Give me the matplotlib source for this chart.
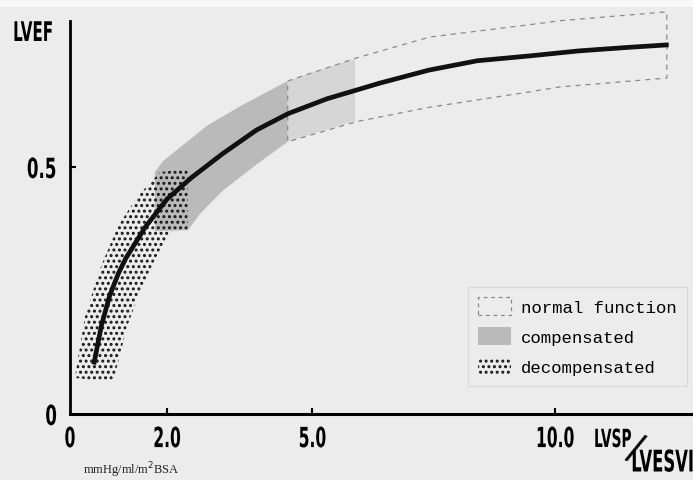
import numpy as np
import matplotlib.pyplot as plt
from matplotlib.patches import Patch, Rectangle
from matplotlib.patheffects import AbstractPathEffect
from matplotlib.transforms import Affine2D
from matplotlib import font_manager

# LVEF vs LVSP/LVESVI relation
curve_x = [0.50, 0.65, 0.82, 1.00, 1.15, 1.55, 2.00, 2.50, 3.15, 3.85, 4.50,
           5.30, 6.40, 7.40, 8.40, 9.50, 10.50, 11.50, 12.30]
curve_y = [0.105, 0.180, 0.240, 0.285, 0.315, 0.378, 0.435, 0.478, 0.527, 0.575, 0.608,
           0.638, 0.670, 0.696, 0.715, 0.725, 0.735, 0.742, 0.747]

# decompensated zone: upper (left) edge and lower (right) edge
decomp_up_x = [0.10, 0.31, 0.62, 0.99, 1.40, 1.86, 2.43]
decomp_up_y = [0.073, 0.198, 0.294, 0.381, 0.441, 0.490, 0.495]
decomp_lo_x = [0.89, 1.18, 1.44, 1.79, 2.06, 2.43]
decomp_lo_y = [0.065, 0.178, 0.247, 0.320, 0.368, 0.372]

# compensated zone
comp_up_x = [1.75, 1.92, 2.82, 3.51, 4.49]
comp_up_y = [0.490, 0.512, 0.583, 0.623, 0.674]
comp_lo_x = [1.75, 2.43, 2.68, 3.15, 3.86, 4.49]
comp_lo_y = [0.370, 0.372, 0.405, 0.452, 0.506, 0.551]

# lighter transition strip between compensated and normal
trans_up_x = [4.49, 5.20, 5.88]
trans_up_y = [0.674, 0.698, 0.719]
trans_lo_x = [4.49, 5.20, 5.88]
trans_lo_y = [0.551, 0.573, 0.593]

# normal function zone (dashed outline)
norm_up_x = [4.49, 5.92, 7.42, 9.48, 10.10, 12.31]
norm_up_y = [0.674, 0.721, 0.763, 0.788, 0.796, 0.814]
norm_lo_x = [4.49, 5.92, 7.42, 9.48, 10.10, 12.31]
norm_lo_y = [0.551, 0.592, 0.621, 0.652, 0.662, 0.680]

x_ticks = [0, 2, 5, 10]
x_tick_labels = ['0', '2.0', '5.0', '10.0']
y_ticks = [0, 0.5]
y_tick_labels = ['0', '0.5']
legend_labels = ['normal function', 'compensated', 'decompensated']


def pick(*names):
    have = {f.name for f in font_manager.fontManager.ttflist}
    return [n for n in names if n in have] + ['DejaVu Sans']


class Squeeze(AbstractPathEffect):
    """Draw glyphs narrower (condensed gothic look), keeping one edge fixed."""

    def __init__(self, sx, anchor='center'):
        super().__init__()
        self.sx = sx
        self.anchor = anchor

    def draw_path(self, renderer, gc, tpath, affine, rgbFace=None):
        ext = tpath.get_extents()
        cx = {'left': ext.x0, 'right': ext.x1}.get(self.anchor, (ext.x0 + ext.x1) / 2)
        squeeze = Affine2D().translate(-cx, 0).scale(self.sx, 1).translate(cx, 0)
        renderer.draw_path(gc, tpath, squeeze + affine, rgbFace)


mono = pick('Liberation Mono', 'DejaVu Sans Mono')
serif = pick('Liberation Serif', 'DejaVu Serif')
gothic = dict(family='DejaVu Sans', fontweight='bold')

bg = '#ececec'
plt.rcParams['hatch.linewidth'] = 1.4

fig = plt.figure(figsize=(6.93, 4.81), dpi=100, facecolor=bg)
fig.patches.append(Rectangle((0, 1 - 8 / 481), 1, 8 / 481, transform=fig.transFigure,
                             facecolor='#f8f8f8', edgecolor='none', zorder=0))
ax = fig.add_axes([70 / 693, 66 / 481, 623 / 693, 415 / 481])
ax.set_facecolor('none')
ax.set_xlim(0, 12.85)
ax.set_ylim(0, 0.840)


def zone(ux, uy, lx, ly):
    return list(ux) + list(lx)[::-1], list(uy) + list(ly)[::-1]


px, py = zone(comp_up_x, comp_up_y, comp_lo_x, comp_lo_y)
ax.fill(px, py, facecolor='#bababa', edgecolor='none', zorder=2)
px, py = zone(trans_up_x, trans_up_y, trans_lo_x, trans_lo_y)
ax.fill(px, py, facecolor='#d6d6d6', edgecolor='none', zorder=2)
px, py = zone(norm_up_x, norm_up_y, norm_lo_x, norm_lo_y)
ax.fill(px, py, fill=False, edgecolor='#8a8a8a', linestyle=(0, (4, 4)), linewidth=0.9,
        zorder=2)
px, py = zone(decomp_up_x, decomp_up_y, decomp_lo_x, decomp_lo_y)
ax.fill(px, py, facecolor='none', edgecolor='#151515', hatch='...', linewidth=0, zorder=3)

ax.plot(curve_x, curve_y, color='#111111', linewidth=3.4, zorder=4)

# axes: left spine stops below the top edge, bottom spine runs off the page
for s in ('top', 'right'):
    ax.spines[s].set_visible(False)
ax.spines['left'].set_bounds(0, 0.795)
ax.spines['left'].set_linewidth(2.0)
ax.spines['bottom'].set_linewidth(2.2)
ax.set_xticks(x_ticks)
ax.set_xticklabels(x_tick_labels)
ax.set_yticks(y_ticks)
ax.set_yticklabels(y_tick_labels)
ax.tick_params(direction='in', length=4, width=1.5)
ax.tick_params(axis='x', pad=8)
ax.tick_params(axis='y', pad=9)
for lab in ax.get_xticklabels():
    lab.set(fontsize=20, **gothic)
    lab.set_path_effects([Squeeze(0.56)])
for lab in ax.get_yticklabels():
    lab.set(fontsize=20, **gothic)
    lab.set_path_effects([Squeeze(0.6, 'right')])
ax.xaxis.get_major_ticks()[0].tick1line.set_visible(False)
ax.yaxis.get_major_ticks()[0].tick1line.set_visible(False)

fig.text(12 / 693, 1 - 35 / 481, 'LVEF', fontsize=19.5, ha='left', va='center',
         path_effects=[Squeeze(0.56, 'left')], **gothic)
fig.text(593 / 693, 1 - 441 / 481, 'LVSP', fontsize=18, ha='left', va='center',
         path_effects=[Squeeze(0.55, 'left')], **gothic)
fig.text(635 / 693, 1 - 449 / 481, '/', family='DejaVu Sans', fontsize=27,
         ha='center', va='center', rotation=-22)
fig.text(630 / 693, 1 - 464 / 481, 'LVESVI', fontsize=21.5, ha='left', va='center',
         path_effects=[Squeeze(0.55, 'left')], **gothic)
fig.text(83 / 693, 1 - 470 / 481, 'mmHg/ml/m$^2$BSA', family=serif, fontsize=9,
         ha='left', va='center', color='#222222')

handles = [
    Patch(facecolor='none', edgecolor='#8a8a8a', linestyle=(0, (3, 3)), linewidth=0.9),
    Patch(facecolor='#bababa', edgecolor='none'),
    Patch(facecolor='none', edgecolor='#151515', hatch='...', linewidth=0),
]
leg = ax.legend(handles, legend_labels, loc='upper left',
                bbox_to_anchor=((468 - 70) / 623, (415 - 288) / 415), borderaxespad=0,
                prop={'family': mono, 'size': 12.5}, handlelength=1.9, handleheight=1.2,
                handletextpad=0.55, labelspacing=0.7, borderpad=0.6,
                frameon=True, fancybox=False)
leg.get_frame().set_facecolor('none')
leg.get_frame().set_edgecolor('#d4d4d4')
leg.get_frame().set_linewidth(0.8)

fig.savefig('out.png', dpi=100, facecolor=bg)
